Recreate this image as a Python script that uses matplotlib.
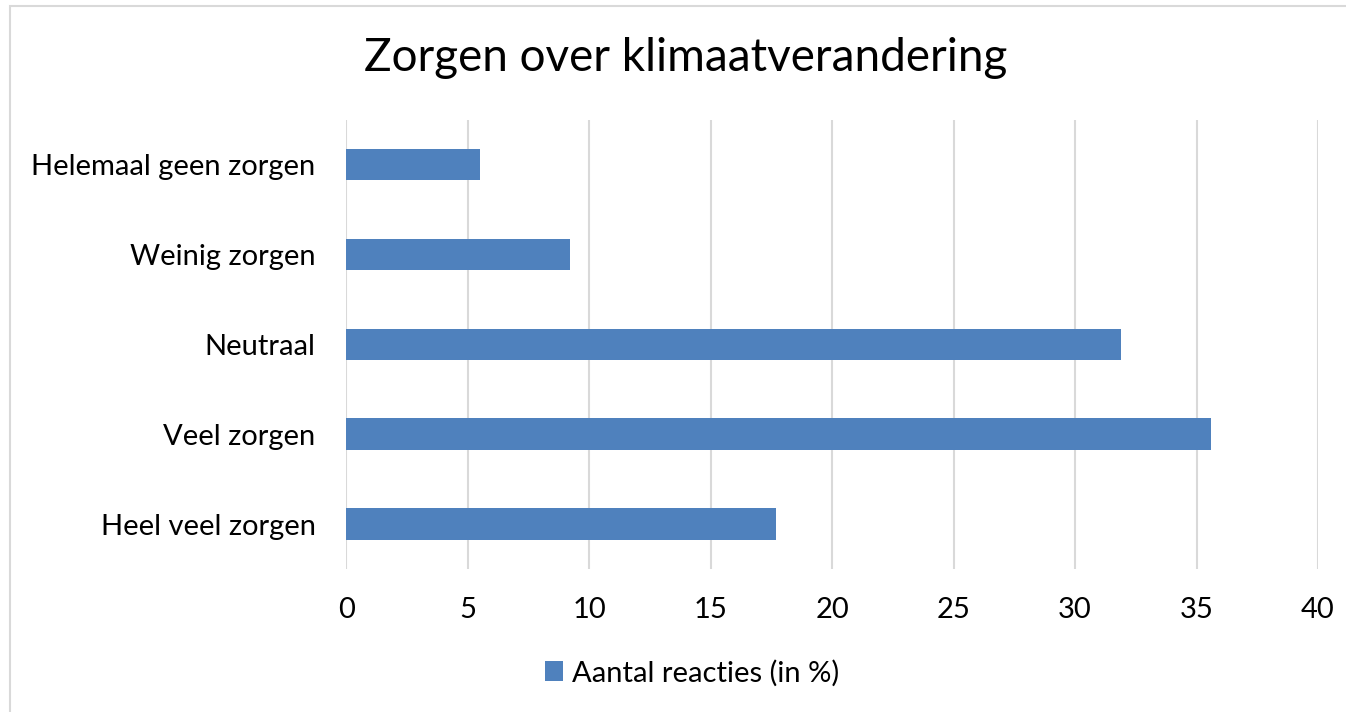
import matplotlib
matplotlib.use('Agg')
import matplotlib.pyplot as plt
from matplotlib.patches import Rectangle

plt.rcParams['font.family'] = ['Lato', 'DejaVu Sans']

categories = ['Heel veel zorgen', 'Veel zorgen', 'Neutraal', 'Weinig zorgen', 'Helemaal geen zorgen']
values = [17.7, 35.6, 31.9, 9.2, 5.5]
series_name = 'Aantal reacties (in %)'
x_ticks = [0, 5, 10, 15, 20, 25, 30, 35, 40]

BAR_COLOR = '#4f81bd'
GRID_COLOR = '#d9d9d9'


def main():
    W, H = 1346, 712
    fig = plt.figure(figsize=(W / 100, H / 100), dpi=100)
    ax = fig.add_axes([346.3 / W, 1 - 569 / H, (1318 - 346.3) / W, (569 - 119.5) / H])

    bars = ax.barh(range(len(categories)), values, height=0.35, color=BAR_COLOR,
                   label=series_name, zorder=3)
    ax.set_yticks(range(len(categories)))
    ax.set_yticklabels(categories)
    ax.set_ylim(-0.5, len(categories) - 0.5)
    ax.set_xlim(0, 40)
    ax.set_xticks(x_ticks)
    ax.grid(axis='x', color=GRID_COLOR, linewidth=1.5, zorder=0)
    for s in ax.spines.values():
        s.set_visible(False)
    ax.tick_params(axis='both', length=0, labelsize=21, labelcolor='black')
    ax.tick_params(axis='y', pad=22)
    ax.tick_params(axis='x', pad=20)

    fig.text(686 / W, 1 - 58 / H, 'Zorgen over klimaatverandering', ha='center', va='center',
             fontsize=33)

    fig.legend(handles=[bars], labels=[series_name], loc='center', bbox_to_anchor=(692 / W, 1 - 673 / H),
               frameon=False, fontsize=21, handlelength=0.65, handleheight=0.65, handletextpad=0.3)

    # chart border
    fig.patches.append(Rectangle((10 / W, -0.05), 1.1, 1 - 6 / H + 0.05, transform=fig.transFigure,
                                 fill=False, edgecolor=GRID_COLOR, linewidth=1.5))

    fig.savefig('out.png', dpi=100)
    plt.close(fig)


if __name__ == '__main__':
    main()
